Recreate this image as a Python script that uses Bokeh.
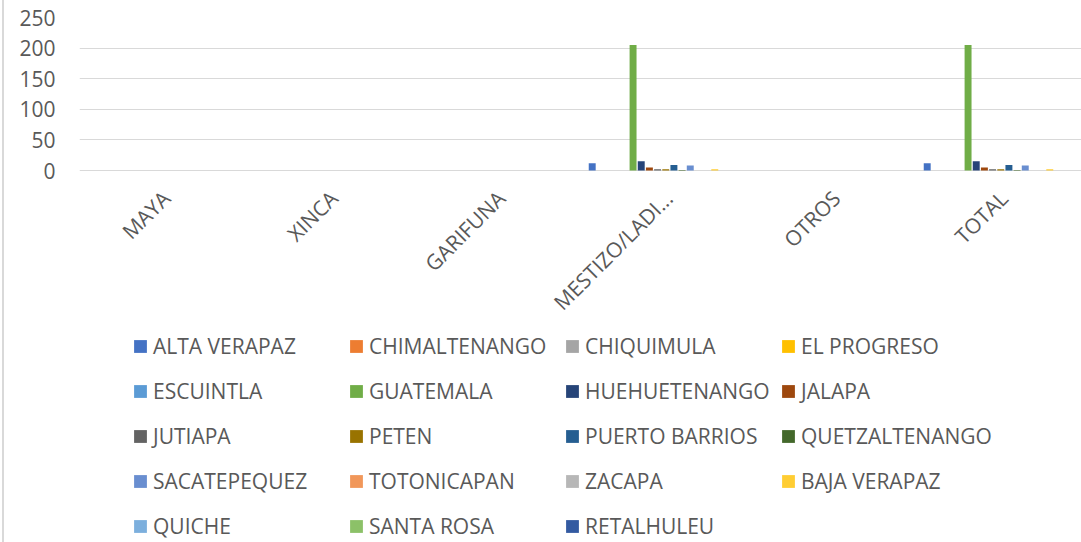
import math
from bokeh.plotting import figure
from bokeh.models import Range1d, FixedTicker, ColumnDataSource, Legend, LegendItem
from bokeh.transform import dodge
from bokeh.core.properties import value
from bokeh.embed import file_html
from bokeh.resources import INLINE

categories = ["MAYA", "XINCA", "GARIFUNA", "MESTIZO/LADI...", "OTROS", "TOTAL"]

departments = ["ALTA VERAPAZ", "CHIMALTENANGO", "CHIQUIMULA", "EL PROGRESO",
               "ESCUINTLA", "GUATEMALA", "HUEHUETENANGO", "JALAPA",
               "JUTIAPA", "PETEN", "PUERTO BARRIOS", "QUETZALTENANGO",
               "SACATEPEQUEZ", "TOTONICAPAN", "ZACAPA", "BAJA VERAPAZ",
               "QUICHE", "SANTA ROSA", "RETALHULEU"]

alta_verapaz   = [0, 0, 0, 12, 0, 12]
chimaltenango  = [0, 0, 0, 0, 0, 0]
chiquimula     = [0, 0, 0, 0, 0, 0]
el_progreso    = [0, 0, 0, 0, 0, 0]
escuintla      = [0, 0, 0, 0, 0, 0]
guatemala      = [0, 0, 0, 205, 0, 205]
huehuetenango  = [0, 0, 0, 15, 0, 15]
jalapa         = [0, 0, 0, 5, 0, 5]
jutiapa        = [0, 0, 0, 2, 0, 2]
peten          = [0, 0, 0, 2, 0, 2]
puerto_barrios = [0, 0, 0, 9, 0, 9]
quetzaltenango = [0, 0, 0, 1, 0, 1]
sacatepequez   = [0, 0, 0, 8, 0, 8]
totonicapan    = [0, 0, 0, 0, 0, 0]
zacapa         = [0, 0, 0, 0, 0, 0]
baja_verapaz   = [0, 0, 0, 2, 0, 2]
quiche         = [0, 0, 0, 0, 0, 0]
santa_rosa     = [0, 0, 0, 0, 0, 0]
retalhuleu     = [0, 0, 0, 0, 0, 0]

series_values = [alta_verapaz, chimaltenango, chiquimula, el_progreso, escuintla,
                 guatemala, huehuetenango, jalapa, jutiapa, peten, puerto_barrios,
                 quetzaltenango, sacatepequez, totonicapan, zacapa, baja_verapaz,
                 quiche, santa_rosa, retalhuleu]

colors = ["#4472C4", "#ED7D31", "#A5A5A5", "#FFC000", "#5B9BD5", "#70AD47",
          "#264478", "#9E480E", "#636363", "#997300", "#255E91", "#43682B",
          "#698ED0", "#F1975A", "#B7B7B7", "#FFCD33", "#7CAFDD", "#8CC168",
          "#335AA1"]

y_ticks = [0, 50, 100, 150, 200, 250]

FONT = "Open Sans"
TXT = "#595959"
FS = "21px"

xc = [i + 0.5 for i in range(len(categories))]
n = len(departments)
slot = 1.0 / (n + 1.5)

# frame: 0..250 occupies the top 153 px; the area below holds labels + legend
W, H = 1081, 542
LEFT, TOP = 79, 17
frame_w = W - LEFT
frame_h = H - TOP
px_per_unit = 153 / 250
y_bottom = -(frame_h - 153) / px_per_unit

p = figure(width=W, height=H, output_backend="svg", toolbar_location=None,
           x_range=Range1d(0, frame_w / 167.5), y_range=Range1d(y_bottom, 250),
           min_border_left=LEFT, min_border_right=0, min_border_top=TOP,
           min_border_bottom=0)
p.outline_line_color = None
p.background_fill_color = "white"
p.border_fill_color = None
p.styles = {"background-color": "white",
            "box-shadow": "inset 2px 0 0 0 white, inset 4px 0 0 0 #D9D9D9"}

items = []
for j, (name, vals, col) in enumerate(zip(departments, series_values, colors)):
    src = ColumnDataSource(dict(x=xc, top=vals))
    off = (j - (n - 1) / 2) * slot
    r = p.vbar(x=dodge("x", off, range=p.x_range), top="top", bottom=0,
               width=slot * 0.85, source=src, fill_color=col, line_color=None)
    items.append(LegendItem(label=name, renderers=[r]))

p.xgrid.visible = False
p.ygrid.grid_line_color = "#D9D9D9"
p.ygrid.grid_line_width = 1
p.ygrid.ticker = FixedTicker(ticks=y_ticks)

p.yaxis.ticker = FixedTicker(ticks=y_ticks)
p.yaxis.axis_line_color = None
p.yaxis.major_tick_line_color = None
p.yaxis.minor_tick_line_color = None
p.yaxis.major_tick_out = 0
p.yaxis.major_label_standoff = 24
p.yaxis.major_label_text_font = FONT
p.yaxis.major_label_text_font_size = FS
p.yaxis.major_label_text_color = TXT

p.xaxis.visible = False

# category labels, rotated 45 degrees, hanging below the zero line
lab_src = ColumnDataSource(dict(x=xc, y=[0] * len(categories), text=categories))
p.text(x="x", y="y", text="text", source=lab_src, angle=math.pi / 4,
       text_align="right", text_baseline="middle", x_offset=3, y_offset=24,
       text_font=value(FONT), text_font_size=FS, text_color=TXT)

legend = Legend(items=items, ncols=4, orientation="horizontal",
                location=(53, -4), padding=0, margin=0, spacing=5,
                glyph_width=16, glyph_height=16, label_standoff=5,
                label_width=190, label_height=40, border_line_color=None,
                background_fill_alpha=0, label_text_font=FONT,
                label_text_font_size=FS, label_text_color=TXT)
p.add_layout(legend, "center")

open("out.html", "w").write(file_html(p, INLINE))
